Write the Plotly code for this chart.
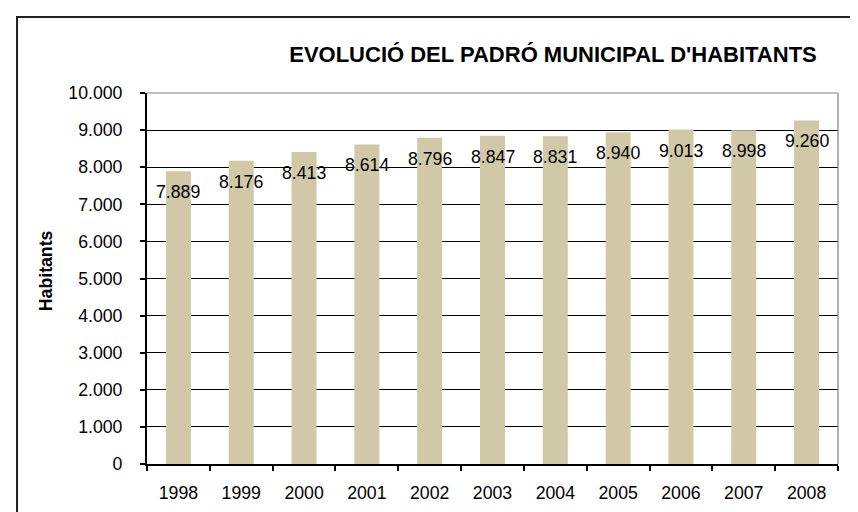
import plotly.graph_objects as go

years = ["1998", "1999", "2000", "2001", "2002", "2003", "2004", "2005", "2006", "2007", "2008"]
habitants = [7889, 8176, 8413, 8614, 8796, 8847, 8831, 8940, 9013, 8998, 9260]
value_labels = ["7.889", "8.176", "8.413", "8.614", "8.796", "8.847", "8.831", "8.940", "9.013", "8.998", "9.260"]
y_tickvals = [0, 1000, 2000, 3000, 4000, 5000, 6000, 7000, 8000, 9000, 10000]
y_ticktext = ["0", "1.000", "2.000", "3.000", "4.000", "5.000", "6.000", "7.000", "8.000", "9.000", "10.000"]
title_text = "EVOLUCIÓ DEL PADRÓ MUNICIPAL D'HABITANTS"
y_title = "Habitants"

FONT = "Liberation Sans, Arial, sans-serif"
FS = 17.7

fig = go.Figure()
fig.add_trace(go.Bar(x=years, y=habitants, marker=dict(color="#D0C8A6", line=dict(width=0)),
                     hoverinfo="x+y"))

# data labels (x given as category index so the category axis keeps its range)
for i, (v, lab) in enumerate(zip(habitants, value_labels)):
    fig.add_annotation(x=i, y=v, xref="x", yref="y", text=lab, showarrow=False, yshift=-21,
                       font=dict(family=FONT, size=FS, color="black"))

# y-axis title as annotation
fig.add_annotation(xref="paper", yref="paper", x=-0.146, y=0.52, text="<b>%s</b>" % y_title,
                   textangle=-90, showarrow=False, xanchor="center", yanchor="middle",
                   font=dict(family=FONT, size=FS, color="black"))

# outer chart frame
fig.add_shape(type="rect", xref="paper", yref="paper", x0=-0.1881, x1=1.0434, y0=-0.156, y1=1.2049,
              line=dict(color="#222222", width=2), layer="above")
# gray top/right plot-area border
fig.add_shape(type="line", xref="paper", yref="paper", x0=0, x1=1, y0=1, y1=1,
              line=dict(color="#808080", width=1.2), layer="above")
fig.add_shape(type="line", xref="paper", yref="paper", x0=1, x1=1, y0=0, y1=1,
              line=dict(color="#808080", width=1.2), layer="above")

fig.update_layout(
    width=858, height=512,
    margin=dict(l=139, r=28, t=85, b=56),
    paper_bgcolor="white", plot_bgcolor="white",
    bargap=0.602,
    showlegend=False,
    font=dict(family=FONT, size=FS, color="black"),
    title=dict(text="<b>%s</b>" % title_text, x=545 / 858, xref="container", xanchor="center",
               y=1 - 46 / 512, yref="container", yanchor="middle",
               font=dict(family=FONT, size=22, color="black")),
)
fig.update_xaxes(
    type="category", range=[-0.5, len(years) - 0.5], automargin=False,
    showline=True, linecolor="black", linewidth=2,
    ticks="outside", tickson="boundaries", ticklen=5, tickwidth=1.5, tickcolor="black",
    ticklabelstandoff=12, tickangle=0, showgrid=False, zeroline=False,
    tickfont=dict(family=FONT, size=FS, color="black"),
)
fig.update_yaxes(
    range=[0, 10000], tickvals=y_tickvals, ticktext=y_ticktext, automargin=False,
    showline=True, linecolor="black", linewidth=2,
    ticks="outside", ticklen=5, tickwidth=1.5, tickcolor="black",
    ticklabelstandoff=14,
    showgrid=True, gridcolor="black", gridwidth=1, zeroline=False,
    tickfont=dict(family=FONT, size=FS, color="black"),
)

fig.write_html("out.html")
